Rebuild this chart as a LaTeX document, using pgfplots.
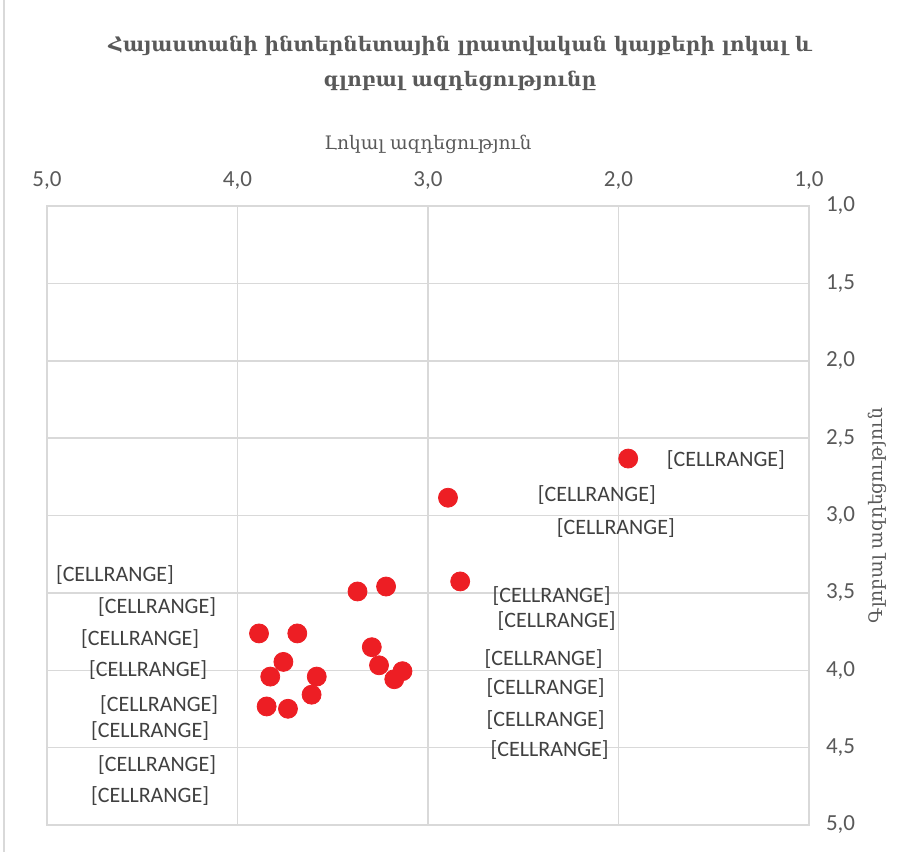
\documentclass[border=0pt]{standalone}
\usepackage{fontspec}
\setmainfont{Carlito}
\newfontfamily\armfont{DejaVu Serif}
\usepackage{pgfplots}
\pgfplotsset{compat=1.18}
\usepackage{pgfplotstable}

\definecolor{gridgray}{HTML}{D9D9D9}
\definecolor{txtgray}{HTML}{595959}
\definecolor{lblgray}{HTML}{404040}
\definecolor{dotred}{RGB}{237,30,36}

% points: local (x), global (y)
\pgfplotstableread{
x      y
1.949  2.632
2.895  2.885
2.831  3.426
3.370  3.491
3.220  3.459
3.887  3.762
3.686  3.762
3.295  3.851
3.759  3.946
3.257  3.968
3.134  4.006
3.177  4.058
3.828  4.041
3.584  4.041
3.611  4.158
3.847  4.234
3.735  4.249
}\points

% where Excel left the data labels
\pgfplotstableread{
x      y
1.436  2.641
2.114  2.868
2.014  3.081
2.351  3.520
2.325  3.682
2.393  3.927
2.382  4.115
2.382  4.321
2.361  4.515
4.643  3.385
4.422  3.591
4.511  3.798
4.469  3.998
4.411  4.225
4.459  4.393
4.422  4.612
4.459  4.813
}\labelpos

\newcommand\lbl{[CELLRANGE]}

\begin{document}
\begin{tikzpicture}
\useasboundingbox (0,0) rectangle (458.5bp,426bp);
\draw[gridgray, line width=1bp] (1.75bp,0) -- (1.75bp,426bp);

\node[font=\armfont\bfseries\fontsize{10bp}{17.5bp}\selectfont, text=txtgray, align=center]
  at (230bp,394bp) {Հայաստանի ինտերնետային լրատվական կայքերի լոկալ և\\գլոբալ ազդեցությունը};

\begin{axis}[
  at={(23.5bp,13.5bp)}, anchor=south west,
  width=381bp, height=309.5bp, scale only axis,
  xmin=1, xmax=5, ymin=1, ymax=5,
  x dir=reverse, y dir=reverse,
  xtick={1,2,3,4,5},
  ytick={1,1.5,2,2.5,3,3.5,4,4.5,5},
  xticklabel pos=upper, yticklabel pos=right,
  major tick length=0pt,
  grid=major,
  grid style={gridgray, line width=0.75bp},
  axis line style={gridgray, line width=0.75bp},
  tick label style={font=\fontsize{11.5bp}{13bp}\selectfont, text=txtgray},
  xticklabel style={yshift=5bp},
  yticklabel style={xshift=5bp},
  /pgf/number format/.cd, fixed, fixed zerofill, precision=1, use comma, assume math mode=true,
  /pgfplots/.cd,
  xlabel={\armfont Լոկալ ազդեցություն},
  ylabel={\armfont Գլոբալ ազդեցություն},
  xlabel style={at={(axis description cs:0.5,1)}, anchor=center, yshift=30.75bp,
    font=\fontsize{9.3bp}{11bp}\selectfont, text=txtgray},
  ylabel style={at={(axis description cs:1.0892,0.5)}, anchor=center,
    font=\fontsize{9.3bp}{11bp}\selectfont, text=txtgray},
  clip=false,
]
\addplot[only marks, mark=*, color=dotred, mark size=4.75bp]
  table[x=x, y=y] {\points};
\addplot[draw=none, mark=none, nodes near coords={\lbl},
  nodes near coords style={anchor=center, font=\fontsize{11bp}{13bp}\selectfont, text=lblgray}]
  table[x=x, y=y] {\labelpos};
\end{axis}
\end{tikzpicture}
\end{document}
